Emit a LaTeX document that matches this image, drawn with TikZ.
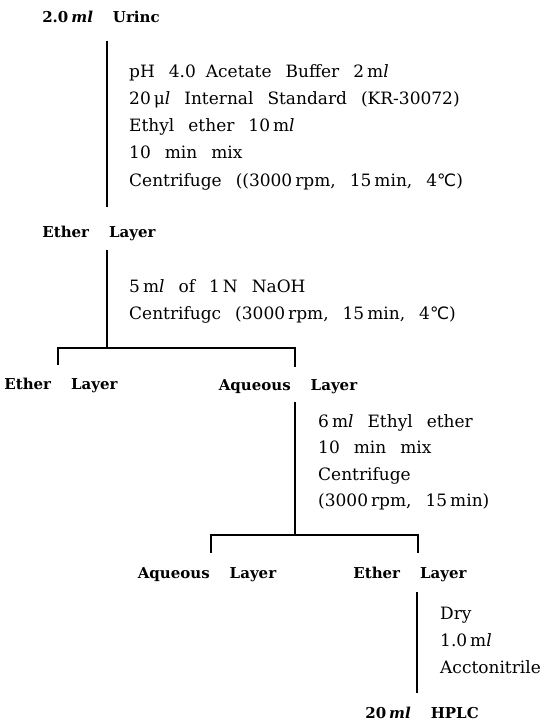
\documentclass[tikz,border=0pt]{standalone}
\usepackage{fontspec}
\setmainfont{DejaVu Serif}
\newfontfamily\symfont{DejaVu Sans}
\newcommand\tsp{\kern3pt\relax}
\newcommand\degC{{\symfont ℃}}
\newcommand\mlu{m\textit{l}}
\newcommand\lblfont{\fontsize{15}{18}\selectfont\bfseries\spaceskip 20pt\relax}
\newcommand\txtfont{\fontsize{17}{20}\selectfont\spaceskip 14pt\relax}
\tikzset{
  tree/.style={line width=2.5pt, line cap=butt},
  lbl/.style={font=\lblfont, inner sep=0pt, anchor=base},
  txt/.style={font=\txtfont, inner sep=0pt, anchor=base west},
}
\begin{document}
\begin{tikzpicture}[x=1pt,y=1pt]
\useasboundingbox (0,0) rectangle (541,-722);
% labels
\node[lbl] (urine)  at (101,-22.5) {2.0\tsp\textit{ml} Urinc};
\node[lbl] (ether1) at (99,-237) {Ether Layer};
\node[lbl] (ether2) at (61,-389) {Ether Layer};
\node[lbl] (aq1)    at (288,-390) {Aqueous Layer};
\node[lbl] (aq2)    at (207,-578.5) {Aqueous Layer};
\node[lbl] (ether3) at (410,-578.5) {Ether Layer};
\node[lbl] (hplc)   at (422,-718.5) {20\tsp\textit{ml} HPLC};
% block 1
\node[txt] (b1a) at (129,-78)    {pH 4.0\kern10pt Acetate Buffer 2\tsp\mlu};
\node[txt] (b1b) at (129,-105)   {20\tsp μ\textit{l} Internal Standard (KR-30072)};
\node[txt] (b1c) at (129,-132)   {Ethyl ether 10\tsp\mlu};
\node[txt] (b1d) at (129,-159)   {10 min mix};
\node[txt] (b1e) at (129,-186)   {Centrifuge ((3000\tsp rpm, 15\tsp min, 4\degC)};
% block 2
\node[txt] (b2a) at (129,-292) {5\tsp\mlu{} of 1\tsp N NaOH};
\node[txt] (b2b) at (129,-319) {Centrifugc (3000\tsp rpm, 15\tsp min, 4\degC)};
% block 3
\node[txt] (b3a) at (318,-427) {6\tsp\mlu{} Ethyl ether};
\node[txt] (b3b) at (318,-453) {10 min mix};
\node[txt] (b3c) at (318,-480) {Centrifuge};
\node[txt] (b3d) at (318,-506) {(3000\tsp rpm, 15\tsp min)};
% block 4
\node[txt] (b4a) at (440,-619) {Dry};
\node[txt] (b4b) at (440,-646) {1.0\tsp\mlu};
\node[txt] (b4c) at (440,-673) {Acctonitrile};
% tree coordinates
\coordinate (l1a) at (107,-41);
\coordinate (l1b) at (107,-207);
\coordinate (l2a) at (107,-250);
\coordinate (j2)  at (107,-348);
\coordinate (t2l) at (58,-365);
\coordinate (t2r) at (295,-367);
\coordinate (l3a) at (295,-402);
\coordinate (j3)  at (295,-535);
\coordinate (t3l) at (211,-553);
\coordinate (t3r) at (418,-553);
\coordinate (l4a) at (417,-592);
\coordinate (l4b) at (417,-693);
% tree lines
\draw[tree] (l1a) -- (l1b);
\draw[tree] (l2a) -- (j2);
\draw[tree] (t2l) |- (j2) -| (t2r);
\draw[tree] (l3a) -- (j3);
\draw[tree] (t3l) |- (j3) -| (t3r);
\draw[tree] (l4a) -- (l4b);
\end{tikzpicture}
\end{document}
